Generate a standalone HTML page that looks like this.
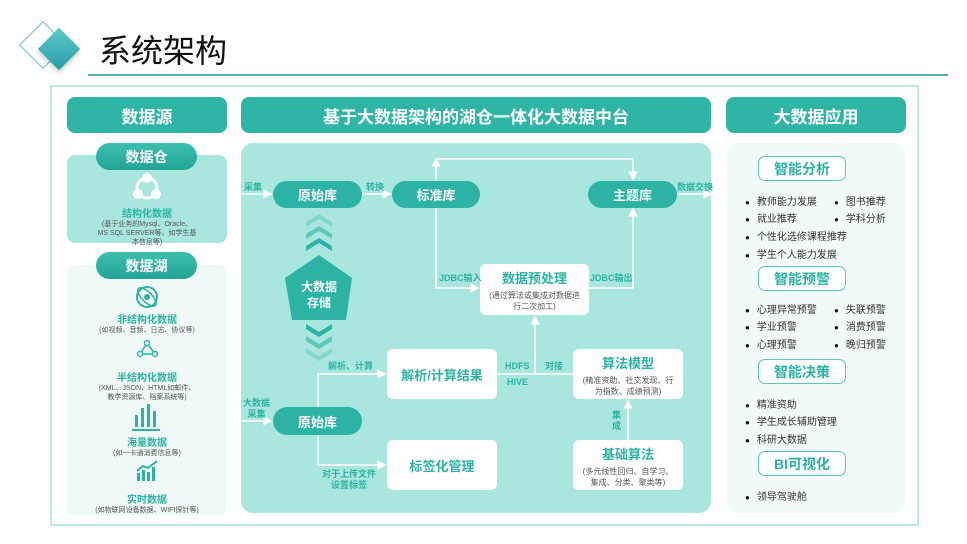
<!DOCTYPE html>
<html><head><meta charset="utf-8"><style>
*{margin:0;padding:0;box-sizing:border-box}
body{width:967px;height:544px;background:#fff;position:relative;overflow:hidden;font-family:"Liberation Sans","Noto Sans CJK SC",sans-serif}
.a{position:absolute}
.hd{position:absolute;background:#2fb5a6;color:#fff;font-weight:bold;font-size:17px;border-radius:8px;display:flex;align-items:center;justify-content:center}
.pill{position:absolute;background:linear-gradient(#3dbfb0,#23a595);color:#fff;font-weight:bold;font-size:14px;border-radius:14px;display:flex;align-items:center;justify-content:center}
.node{position:absolute;background:#2db3a3;color:#fff;font-weight:bold;font-size:13px;border-radius:14px;display:flex;align-items:center;justify-content:center}
.wb{position:absolute;background:#fff;border-radius:6px;text-align:center;color:#2db3a3;font-weight:bold}
.wb small{display:block;color:#555;font-weight:normal;font-size:8px;line-height:11px;margin-top:3px}
.lbl{position:absolute;color:#2db3a3;font-size:9px;font-weight:bold;line-height:11px}
.src{position:absolute;left:67px;width:160px;text-align:center}
.src b{display:block;color:#2db3a3;font-size:10px}
.src i{display:block;font-style:normal;color:#555;font-size:7px;line-height:9px}
.ob{position:absolute;border:1.5px solid #5cc6b8;border-radius:7px;background:#fff;color:#2db3a3;font-weight:bold;font-size:14px;display:flex;align-items:center;justify-content:center;left:758px;width:88px;height:25px}
.li{position:absolute;font-size:10px;color:#333;white-space:nowrap}
.li:before{content:"●";font-size:8px;margin-right:7px;color:#111}
</style></head><body>
<div class="a" style="left:26px;top:28px;width:34px;height:34px;border:1px solid #6bbfc3;transform:rotate(45deg);background:#fff"></div>
<div class="a" style="left:44px;top:34px;width:30px;height:30px;transform:rotate(45deg);background:linear-gradient(135deg,#5cc8c8,#2a9fa8);box-shadow:2px 2px 4px rgba(0,0,0,.2)"></div>
<div class="a" style="left:99px;top:26px;font-size:32px;color:#111">系统架构</div>
<div class="a" style="left:88px;top:74px;width:860px;height:2px;background:#5aaea8"></div>
<div class="a" style="left:50px;top:85px;width:869px;height:441px;border:2px solid #bfe8e2"></div>
<div class="hd" style="left:67px;top:97px;width:160px;height:36px">数据源</div>
<div class="hd" style="left:241px;top:97px;width:470px;height:36px">基于大数据架构的湖仓一体化大数据中台</div>
<div class="hd" style="left:726px;top:97px;width:180px;height:36px">大数据应用</div>
<div class="a" style="left:67px;top:155px;width:160px;height:88px;background:#a9e6de;border-radius:8px"></div>
<div class="a" style="left:67px;top:265px;width:160px;height:250px;background:#effaf8;border-radius:8px"></div>
<div class="pill" style="left:96px;top:143px;width:101px;height:27px">数据仓</div>
<div class="pill" style="left:96px;top:252px;width:101px;height:27px">数据湖</div>
<svg class="a" style="left:0;top:0" width="967" height="544">
<circle cx="147" cy="188" r="10" fill="none" stroke="#fff" stroke-width="3"/><circle cx="147" cy="178" r="5" fill="#fff"/><circle cx="138" cy="194" r="5" fill="#fff"/><circle cx="156" cy="194" r="5" fill="#fff"/>
<circle cx="147" cy="297" r="10" fill="none" stroke="#2db3a3" stroke-width="2"/><ellipse cx="147" cy="297" rx="12" ry="5" fill="none" stroke="#2db3a3" stroke-width="1.5" transform="rotate(45 147 297)"/><circle cx="147" cy="297" r="3" fill="#2db3a3"/>
<g stroke="#2db3a3" stroke-width="1.5" fill="#fff"><line x1="147" y1="343" x2="140" y2="354"/><line x1="147" y1="343" x2="155" y2="354"/><line x1="140" y1="354" x2="155" y2="354"/><circle cx="147" cy="343" r="2.5"/><circle cx="140" cy="354" r="2.5"/><circle cx="155" cy="354" r="2.5"/></g>
<g fill="#2db3a3"><rect x="135" y="415" width="3" height="12"/><rect x="141" y="408" width="3" height="19"/><rect x="147" y="404" width="3" height="23"/><rect x="153" y="411" width="3" height="16"/><rect x="132" y="429" width="28" height="2"/>
<rect x="137" y="473" width="3" height="8"/><rect x="142" y="470" width="3" height="11"/><rect x="147" y="472" width="3" height="9"/><rect x="152" y="467" width="3" height="14"/></g>
<polyline points="137,471 143,466 148,468 157,461" fill="none" stroke="#2db3a3" stroke-width="2"/>
</svg>
<div class="src" style="top:205px"><b>结构化数据</b><i>(基于业务的Mysql、Oracle、<br>MS SQL SERVER等、如学生基<br>本信息等)</i></div>
<div class="src" style="top:311px"><b>非结构化数据</b><i>(如视频、音频、日志、协议等)</i></div>
<div class="src" style="top:369px"><b>半结构化数据</b><i>(XML、JSON、HTML如邮件、<br>教学资源库、档案系统等)</i></div>
<div class="src" style="top:434px"><b>海量数据</b><i>(如一卡通消费信息等)</i></div>
<div class="src" style="top:491px"><b>实时数据</b><i>(如物联网设备数据、WIFI探针等)</i></div>
<div class="a" style="left:241px;top:143px;width:470px;height:370px;background:#a9e6de;border-radius:12px"></div>
<svg class="a" style="left:0;top:0" width="967" height="544">
<defs><marker id="ar" markerWidth="6" markerHeight="6" refX="5" refY="3" orient="auto"><path d="M0,0L6,3L0,6z" fill="#fff"/></marker></defs>
<g stroke="#fff" stroke-width="1.5" fill="none">
<line x1="241" y1="194" x2="271" y2="194" marker-end="url(#ar)"/>
<line x1="362" y1="194" x2="390" y2="194" marker-end="url(#ar)"/>
<line x1="677" y1="194" x2="711" y2="194" marker-end="url(#ar)"/>
<polyline points="436,181 436,159" marker-end="url(#ar)"/>
<polyline points="436,159 633,159 633,179" marker-end="url(#ar)"/>
<polyline points="436,207 436,288 478,288" marker-end="url(#ar)"/>
<polyline points="589,288 633,288 633,209" marker-end="url(#ar)"/>
<line x1="497" y1="374" x2="573" y2="374"/>
<line x1="535" y1="374" x2="535" y2="317" marker-end="url(#ar)"/>
<line x1="241" y1="421" x2="271" y2="421" marker-end="url(#ar)"/>
<polyline points="318,407 318,374 385,374" marker-end="url(#ar)"/>
<polyline points="318,435 318,465 385,465" marker-end="url(#ar)"/>
<line x1="628" y1="440" x2="628" y2="401" marker-end="url(#ar)"/>
</g>
<g fill="#2db3a3">
<path d="M306,222l13,-8 13,8v5l-13,-8 -13,8z" opacity=".3"/>
<path d="M306,234l13,-8 13,8v5l-13,-8 -13,8z" opacity=".6"/>
<path d="M306,246l13,-8 13,8v5l-13,-8 -13,8z"/>
<polygon points="319,255 352,278 346,320 292,320 285,278"/>
<path d="M306,324l13,8 13,-8v5l-13,8 -13,-8z"/>
<path d="M306,336l13,8 13,-8v5l-13,8 -13,-8z" opacity=".6"/>
<path d="M306,348l13,8 13,-8v5l-13,8 -13,-8z" opacity=".3"/>
</g>
</svg>
<div class="a" style="left:296px;top:279px;width:46px;text-align:center;color:#fff;font-weight:bold;font-size:12px;line-height:16px">大数据<br>存储</div>
<div class="node" style="left:273px;top:181px;width:89px;height:27px">原始库</div>
<div class="node" style="left:392px;top:181px;width:88px;height:27px">标准库</div>
<div class="node" style="left:588px;top:181px;width:89px;height:27px">主题库</div>
<div class="node" style="left:273px;top:407px;width:89px;height:28px">原始库</div>
<div class="wb" style="left:480px;top:264px;width:109px;height:51px;padding-top:4px;font-size:13px">数据预处理<small>(通过算法或集成对数据进<br>行二次加工)</small></div>
<div class="wb" style="left:387px;top:349px;width:110px;height:50px;padding-top:16px;font-size:13px">解析/计算结果</div>
<div class="wb" style="left:573px;top:349px;width:110px;height:50px;padding-top:4px;font-size:13px">算法模型<small>(精准资助、社交发现、行<br>为指数、成绩预测)</small></div>
<div class="wb" style="left:387px;top:440px;width:110px;height:50px;padding-top:16px;font-size:13px">标签化管理</div>
<div class="wb" style="left:573px;top:440px;width:110px;height:50px;padding-top:4px;font-size:13px">基础算法<small>(多元线性回归、自学习、<br>集成、分类、聚类等)</small></div>
<div class="lbl" style="left:244px;top:182px">采集</div>
<div class="lbl" style="left:366px;top:182px">转换</div>
<div class="lbl" style="left:677px;top:182px">数据交换</div>
<div class="lbl" style="left:439px;top:273px">JDBC输入</div>
<div class="lbl" style="left:590px;top:273px">JDBC输出</div>
<div class="lbl" style="left:328px;top:361px">解析、计算</div>
<div class="lbl" style="left:505px;top:361px">HDFS</div>
<div class="lbl" style="left:545px;top:361px">对接</div>
<div class="lbl" style="left:507px;top:377px">HIVE</div>
<div class="lbl" style="left:243px;top:398px;text-align:center">大数据<br>采集</div>
<div class="lbl" style="left:612px;top:410px;width:10px">集<br>成</div>
<div class="lbl" style="left:322px;top:469px;text-align:center">对于上传文件<br>设置标签</div>
<div class="a" style="left:726px;top:143px;width:180px;height:370px;background:#f2fbfa;border-radius:12px"></div>
<div class="ob" style="top:156px">智能分析</div>
<div class="li" style="left:745px;top:193px">教师能力发展</div><div class="li" style="left:834px;top:193px">图书推荐</div>
<div class="li" style="left:745px;top:210px">就业推荐</div><div class="li" style="left:834px;top:210px">学科分析</div>
<div class="li" style="left:745px;top:228px">个性化选修课程推荐</div>
<div class="li" style="left:745px;top:246px">学生个人能力发展</div>
<div class="ob" style="top:266px">智能预警</div>
<div class="li" style="left:745px;top:301px">心理异常预警</div><div class="li" style="left:834px;top:301px">失联预警</div>
<div class="li" style="left:745px;top:318px">学业预警</div><div class="li" style="left:834px;top:318px">消费预警</div>
<div class="li" style="left:745px;top:336px">心理预警</div><div class="li" style="left:834px;top:336px">晚归预警</div>
<div class="ob" style="top:359px">智能决策</div>
<div class="li" style="left:745px;top:396px">精准资助</div>
<div class="li" style="left:745px;top:413px">学生成长辅助管理</div>
<div class="li" style="left:745px;top:431px">科研大数据</div>
<div class="ob" style="top:451px">BI可视化</div>
<div class="li" style="left:745px;top:488px">领导驾驶舱</div>
</body></html>
